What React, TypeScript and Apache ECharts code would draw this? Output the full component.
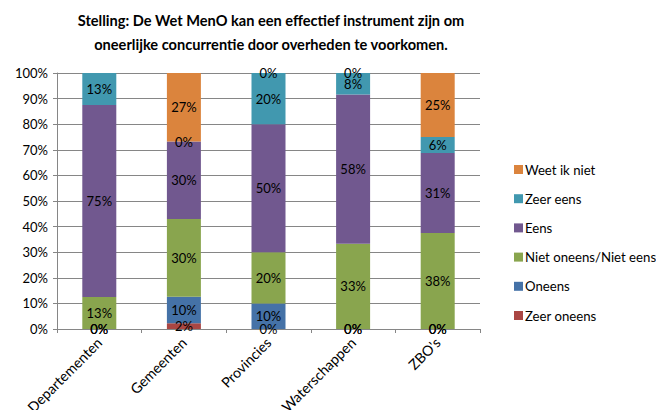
import React, { useEffect, useRef } from "react";
import * as echarts from "echarts";

const categories = ["Departementen", "Gemeenten", "Provincies", "Waterschappen", "ZBO's"];
const seriesNames = ["Zeer oneens", "Oneens", "Niet oneens/Niet eens", "Eens", "Zeer eens", "Weet ik niet"];
const zeerOneens = [0, 2.2, 0, 0, 0];
const oneens = [0, 10.4, 10, 0, 0];
const nietOneensNietEens = [12.5, 30.4, 20, 33.3, 37.5];
const eens = [75, 30.2, 50, 58.3, 31.25];
const zeerEens = [12.5, 0, 20, 8.4, 6.25];
const weetIkNiet = [null, 26.8, 0, 0, 25];
const seriesValues = [zeerOneens, oneens, nietOneensNietEens, eens, zeerEens, weetIkNiet];
const colors = ["#AA4643", "#4572A7", "#89A54E", "#71588F", "#4198AF", "#DB843D"];
const yTicks = [0, 10, 20, 30, 40, 50, 60, 70, 80, 90, 100];

const FONT = "Lato, 'Open Sans', sans-serif";

export default function App() {
  const ref = useRef<HTMLDivElement>(null);
  useEffect(() => {
    if (!ref.current) return;
    const chart = echarts.init(ref.current, undefined, { renderer: "svg" });
    chart.setOption({
      animation: false,
      textStyle: { fontFamily: FONT },
      title: {
        text: "Stelling: De Wet MenO kan een effectief instrument zijn om\noneerlijke concurrentie door overheden te voorkomen.",
        left: 266,
        textAlign: "center",
        top: 3,
        textStyle: { fontFamily: FONT, fontSize: 14.6, fontWeight: "bold", color: "#000", lineHeight: 24 },
      },
      legend: {
        orient: "vertical",
        left: 509,
        top: 158,
        itemWidth: 9,
        itemHeight: 9,
        itemGap: 16.2,
        icon: "rect",
        data: [...seriesNames].reverse(),
        textStyle: { fontFamily: FONT, fontSize: 13.2, color: "#000", padding: [0, 0, 0, -3] },
      },
      grid: { left: 57, right: 184, top: 73, bottom: 89, containLabel: false },
      xAxis: {
        type: "category",
        data: categories,
        axisLine: { lineStyle: { color: "#868686" } },
        axisTick: { show: true, length: 4, lineStyle: { color: "#868686" } },
        axisLabel: { rotate: 45, fontFamily: FONT, fontSize: 14.2, color: "#000", margin: 11 },
      },
      yAxis: {
        type: "value",
        min: 0,
        max: 100,
        interval: 10,
        axisLine: { show: true, lineStyle: { color: "#868686" } },
        axisTick: { show: true, length: 4, lineStyle: { color: "#868686" } },
        splitLine: { lineStyle: { color: "#868686" } },
        axisLabel: {
          fontFamily: FONT,
          fontSize: 13,
          color: "#000",
          margin: 9,
          formatter: (v: number) => (yTicks.includes(v) ? v + "%" : ""),
        },
      },
      series: seriesNames.map((name, i) => ({
        name,
        type: "bar",
        stack: "total",
        barWidth: 34,
        data: seriesValues[i],
        itemStyle: { color: colors[i] },
        label: {
          show: true,
          position: "inside",
          fontFamily: FONT,
          fontSize: 13,
          color: "#000",
          formatter: (p: any) => (p.value == null ? "" : Math.round(p.value) + "%"),
        },
      })),
    });
    return () => chart.dispose();
  }, []);
  return <div ref={ref} style={{ width: 664, height: 418, margin: -8 }} />;
}
